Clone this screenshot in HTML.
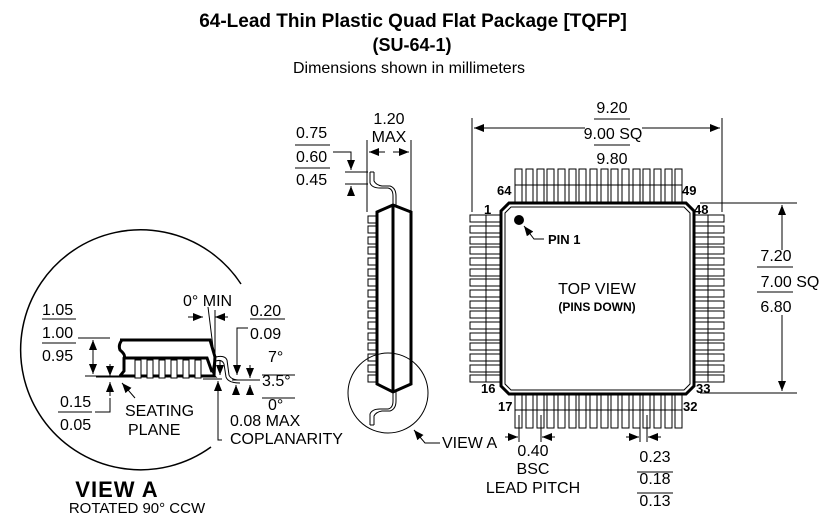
<!DOCTYPE html>
<html><head><style>
body{margin:0;background:#fff;}
svg{display:block;font-family:"Liberation Sans",Arial,sans-serif;}
text{fill:#000;}
</style></head><body>
<svg width="826" height="527" viewBox="0 0 826 527" xmlns="http://www.w3.org/2000/svg">
<defs>
<marker id="a" markerWidth="10" markerHeight="8" refX="10" refY="4" orient="auto" markerUnits="userSpaceOnUse"><path d="M0,0 L10,4 L0,8z" fill="#000"/></marker>
</defs>
<g text-anchor="middle" font-weight="bold">
<text x="413" y="27" font-size="19">64-Lead Thin Plastic Quad Flat Package [TQFP]</text>
<text x="412" y="51" font-size="18">(SU-64-1)</text>
</g>
<text x="409" y="73" font-size="16" text-anchor="middle">Dimensions shown in millimeters</text>

<!-- TOP VIEW -->
<g stroke="#000" stroke-width="1" fill="#fff">
<g id="tp">
<rect x="515" y="169" width="7" height="34"/><rect x="526" y="169" width="7" height="34"/><rect x="537" y="169" width="7" height="34"/><rect x="547" y="169" width="7" height="34"/>
<rect x="558" y="169" width="7" height="34"/><rect x="569" y="169" width="7" height="34"/><rect x="579" y="169" width="7" height="34"/><rect x="590" y="169" width="7" height="34"/>
<rect x="601" y="169" width="7" height="34"/><rect x="611" y="169" width="7" height="34"/><rect x="622" y="169" width="7" height="34"/><rect x="633" y="169" width="7" height="34"/>
<rect x="643" y="169" width="7" height="34"/><rect x="654" y="169" width="7" height="34"/><rect x="665" y="169" width="7" height="34"/><rect x="675" y="169" width="7" height="34"/>
</g>
<use href="#tp" transform="translate(0,225)"/>
<path d="M515,185 H682 M515,410 H682" fill="none"/>
<g id="lp">
<rect x="470" y="215" width="32" height="7"/><rect x="470" y="226" width="32" height="7"/><rect x="470" y="237" width="32" height="7"/><rect x="470" y="247" width="32" height="7"/>
<rect x="470" y="258" width="32" height="7"/><rect x="470" y="269" width="32" height="7"/><rect x="470" y="279" width="32" height="7"/><rect x="470" y="290" width="32" height="7"/>
<rect x="470" y="301" width="32" height="7"/><rect x="470" y="311" width="32" height="7"/><rect x="470" y="322" width="32" height="7"/><rect x="470" y="333" width="32" height="7"/>
<rect x="470" y="343" width="32" height="7"/><rect x="470" y="354" width="32" height="7"/><rect x="470" y="365" width="32" height="7"/><rect x="470" y="375" width="32" height="7"/>
</g>
<use href="#lp" transform="translate(222,0)"/>
<path d="M486,215 V382 M708,215 V382" fill="none"/>
<path d="M509,203 H686 L694,211 V386 L686,394 H509 L501,386 V211Z" stroke-width="3"/>
<path d="M511,207 H684 L690,213 V384 L684,390 H511 L505,384 V213Z"/>
</g>
<circle cx="519" cy="220" r="5" fill="#000"/>
<path d="M544,239 H534 L524,226" stroke="#000" fill="none" marker-end="url(#a)"/>
<g font-weight="bold" font-size="13">
<text x="548" y="244">PIN 1</text>
<text x="497" y="195">64</text><text x="484" y="214">1</text>
<text x="682" y="195">49</text><text x="694" y="214">48</text>
<text x="481" y="393">16</text><text x="498" y="411">17</text>
<text x="696" y="393">33</text><text x="683" y="411">32</text>
</g>
<text x="597" y="294" font-size="16" text-anchor="middle">TOP VIEW</text>
<text x="597" y="311" font-size="12" font-weight="bold" text-anchor="middle">(PINS DOWN)</text>

<g stroke="#000" fill="none">
<path d="M472,118 V212 M722,118 V212"/>
<path d="M585,128 H474" marker-end="url(#a)"/><path d="M642,128 H720" marker-end="url(#a)"/>
<path d="M700,203 H797 M700,393 H797"/>
<path d="M782,250 V205" marker-end="url(#a)"/><path d="M782,315 V391" marker-end="url(#a)"/>
<path d="M594,119 H630 M594,145 H630 M757,267 H793 M757,292 H793"/>
</g>
<g font-size="16" text-anchor="middle">
<text x="612" y="113">9.20</text><text x="613" y="139">9.00 SQ</text><text x="612" y="164">9.80</text>
<text x="776" y="261">7.20</text><text x="790" y="287">7.00 SQ</text><text x="776" y="312">6.80</text>
<text x="533" y="456">0.40</text><text x="533" y="474">BSC</text><text x="533" y="493">LEAD PITCH</text>
<text x="655" y="462">0.23</text><text x="655" y="484">0.18</text><text x="655" y="506">0.13</text>
</g>
<g stroke="#000" fill="none">
<path d="M519,415 V442 M541,415 V442 M640,415 V442 M647,415 V442"/>
<path d="M505,437 H518" marker-end="url(#a)"/><path d="M555,437 H542" marker-end="url(#a)"/>
<path d="M626,437 H639" marker-end="url(#a)"/><path d="M661,437 H648" marker-end="url(#a)"/>
<path d="M637,472 H673 M637,493 H673"/>
</g>

<!-- SIDE VIEW -->
<g stroke="#000" fill="#fff">
<g>
<rect x="368" y="216" width="10" height="7"/><rect x="368" y="226" width="10" height="7"/><rect x="368" y="237" width="10" height="7"/><rect x="368" y="247" width="10" height="7"/>
<rect x="368" y="258" width="10" height="7"/><rect x="368" y="269" width="10" height="7"/><rect x="368" y="279" width="10" height="7"/><rect x="368" y="290" width="10" height="7"/>
<rect x="368" y="301" width="10" height="7"/><rect x="368" y="311" width="10" height="7"/><rect x="368" y="322" width="10" height="7"/><rect x="368" y="333" width="10" height="7"/>
<rect x="368" y="343" width="10" height="7"/><rect x="368" y="354" width="10" height="7"/><rect x="368" y="365" width="10" height="7"/><rect x="368" y="375" width="10" height="7"/>
</g>
<path d="M377,212 L393,205 L411,212 V384 L393,392 L377,384Z" stroke-width="3"/>
<path d="M393,205 V392" stroke-width="3"/>
<path d="M370,172 V183 Q372,188 380,188 H388 Q393,189 393,196 V205 M374,172 V181 Q376,185 382,186 H390 Q396,188 396,196 V205" fill="none"/>
<path d="M370,425 V414 Q372,409 380,409 H388 Q393,408 393,401 V392 M374,425 V416 Q376,412 382,411 H390 Q396,409 396,401 V392" fill="none"/>
<path d="M370,425 H374 M370,172 H374"/>
<circle cx="388" cy="393" r="40" fill="none"/>
</g>
<g stroke="#000" fill="none">
<path d="M367,140 V212 M411,140 V212"/>
<path d="M385,152 H369" marker-end="url(#a)"/><path d="M393,152 H409" marker-end="url(#a)"/>
<path d="M333,152 H351 V170" marker-end="url(#a)"/><path d="M351,196 V186" marker-end="url(#a)"/>
<path d="M345,172 H368 M345,184 H368"/>
<path d="M295,145 H330 M295,168 H330"/>
<path d="M440,443 H425 L414,430" marker-end="url(#a)"/>
</g>
<g font-size="16">
<text x="389" y="124" text-anchor="middle">1.20</text><text x="389" y="142" text-anchor="middle">MAX</text>
<text x="296" y="138">0.75</text><text x="296" y="162">0.60</text><text x="296" y="185">0.45</text>
<text x="442" y="448">VIEW A</text>
</g>

<!-- VIEW A -->
<path d="M241,284 A120,120 0 1 0 211,447" stroke="#000" fill="none" stroke-width="1.5"/>
<g stroke="#000" fill="#fff">
<path d="M124,340 H210 L215,356 L212,372 L216,377 L213,376" fill="none"/>
<path d="M122,340 Q118,345 120,350 Q126,355 124,358 L124,371 L120,376 H214 L215,356" fill="none" stroke-width="3"/>
<path d="M120,340 H210 L215,357" fill="none" stroke-width="3"/>
<path d="M125,358 H207 L212,372" fill="none" stroke-width="3"/>
<g><rect x="135" y="360" width="6" height="18"/><rect x="147" y="360" width="6" height="18"/><rect x="159" y="360" width="6" height="18"/><rect x="171" y="360" width="6" height="18"/><rect x="183" y="360" width="6" height="18"/><rect x="195" y="360" width="6" height="18"/></g>
<path d="M216,357 Q225,355 227,360 L229,375 Q231,380 240,380" fill="none"/>
<path d="M216,361 Q222,359 224,364 L226,377 Q228,383 240,383" fill="none"/>
</g>
<g stroke="#000" fill="none">
<path d="M78,338 H110 M85,376 H118 M96,377 H118 M203,379 H222 M232,380 H260"/>
<path d="M93,357 V340" marker-end="url(#a)"/><path d="M93,357 V374" marker-end="url(#a)"/>
<path d="M110,364 V376" marker-end="url(#a)"/><path d="M110,396 V382" marker-end="url(#a)"/>
<path d="M95,412 H110 V398"/>
<path d="M135,398 L122,383" marker-end="url(#a)"/>
<path d="M188,317 H203" marker-end="url(#a)"/><path d="M228,317 H215" marker-end="url(#a)"/>
<path d="M208,307 L214,355 M215,310 V355"/>
<path d="M220,360 V375" marker-end="url(#a)"/>
<path d="M222,440 H218 V381" marker-end="url(#a)"/>
<path d="M248,328 H237 V375" marker-end="url(#a)"/>
<path d="M236,394 V385" marker-end="url(#a)"/>
<path d="M250,365 V378" marker-end="url(#a)"/><path d="M250,394 V385" marker-end="url(#a)"/>
<path d="M42,319 H76 M42,343 H76 M58,412 H92 M250,319 H285 M262,375 H295 M262,398 H295"/>
</g>
<g font-size="16">
<text x="42" y="315">1.05</text><text x="42" y="338">1.00</text><text x="42" y="361">0.95</text>
<text x="60" y="407">0.15</text><text x="60" y="430">0.05</text>
<text x="125" y="416">SEATING</text><text x="128" y="435">PLANE</text>
<text x="183" y="306">0° MIN</text>
<text x="250" y="316">0.20</text><text x="250" y="339">0.09</text>
<text x="268" y="362">7°</text><text x="262" y="386">3.5°</text><text x="268" y="410">0°</text>
<text x="230" y="426">0.08 MAX</text><text x="230" y="444">COPLANARITY</text>
</g>
<text x="117" y="497" font-size="22" font-weight="bold" text-anchor="middle" letter-spacing="1">VIEW  A</text>
<text x="137" y="513" font-size="15" text-anchor="middle">ROTATED 90° CCW</text>
</svg>
</body></html>
